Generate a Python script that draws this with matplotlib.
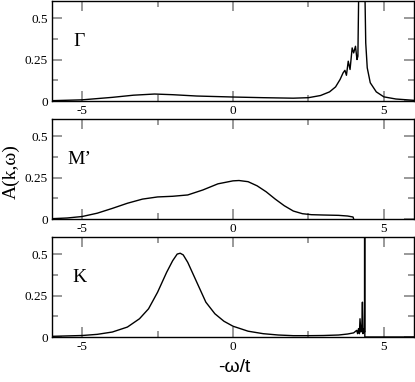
import matplotlib
matplotlib.use("Agg")
import matplotlib.pyplot as plt
from matplotlib.ticker import MultipleLocator, FuncFormatter

plt.rcParams['axes.unicode_minus'] = False

# Gamma point
gamma_w = [-6, -5, -4, -3.3, -2.6, -2, -1.2, 0, 1, 2, 2.5, 2.9, 3.2, 3.4, 3.55,
           3.65, 3.71, 3.76, 3.82, 3.88, 3.95, 4.0, 4.06, 4.11, 4.14, 4.17, 4.22,
           4.27, 4.32, 4.36, 4.4, 4.45, 4.55, 4.75, 5.0, 5.4, 6]
gamma_a = [0.002, 0.007, 0.022, 0.035, 0.042, 0.038, 0.03, 0.024, 0.02, 0.017,
           0.02, 0.033, 0.055, 0.085, 0.13, 0.17, 0.185, 0.155, 0.24, 0.19, 0.32,
           0.29, 0.33, 0.25, 0.27, 0.7, 1.8, 2.5, 1.5, 0.8, 0.35, 0.2, 0.11,
           0.055, 0.025, 0.012, 0.004]

# M' point
m_w = [-6, -5.5, -5, -4.5, -4, -3.5, -3, -2.5, -2, -1.5, -1, -0.5, 0, 0.2, 0.5,
       0.8, 1.1, 1.4, 1.7, 2.0, 2.3, 2.6, 3.0, 3.5, 3.8, 3.98, 4.0]
m_a = [0.002, 0.006, 0.015, 0.035, 0.064, 0.095, 0.12, 0.133, 0.137, 0.145,
       0.175, 0.212, 0.23, 0.232, 0.225, 0.2, 0.164, 0.12, 0.08, 0.048, 0.032,
       0.026, 0.024, 0.022, 0.018, 0.012, 0.0]

# K point
k_w = [-6, -5, -4.5, -4, -3.5, -3.1, -2.8, -2.5, -2.2, -2.0, -1.85, -1.75, -1.65,
       -1.5, -1.3, -1.1, -0.9, -0.6, -0.3, 0, 0.5, 1.0, 1.5, 2, 2.5, 3, 3.5, 3.8,
       4.0, 4.1, 4.13, 4.16, 4.19, 4.21, 4.24, 4.27, 4.29, 4.31, 4.33, 4.36, 4.365,
       4.37, 4.42, 4.5, 5, 6]
k_a = [0.004, 0.009, 0.016, 0.03, 0.06, 0.11, 0.17, 0.27, 0.39, 0.46, 0.5, 0.505,
       0.495, 0.45, 0.37, 0.29, 0.21, 0.14, 0.095, 0.065, 0.035, 0.02, 0.012,
       0.008, 0.008, 0.009, 0.012, 0.018, 0.025, 0.04, 0.02, 0.05, 0.02, 0.11,
       0.03, 0.06, 0.21, 0.02, 0.05, 0.03, 3.0, 0.0, 0.0, 0.0, 0.0, 0.0]

panels = [(gamma_w, gamma_a, 'Γ'), (m_w, m_a, 'M’'), (k_w, k_a, 'K')]
serif = 'Liberation Serif'


def fmt(v, pos):
    return '%g' % v


fig = plt.figure(figsize=(4.15, 3.82), dpi=100)
bottoms = [0.7356, 0.4267, 0.1178]
for (w, a, name), b in zip(panels, bottoms):
    ax = fig.add_axes([0.1253, b, 0.8723, 0.2605])
    ax.plot(w, a, color='black', lw=1.0)
    ax.set_xlim(-6, 6)
    ax.set_ylim(0, 0.6)
    ax.xaxis.set_major_locator(MultipleLocator(5))
    ax.xaxis.set_minor_locator(MultipleLocator(2.5))
    ax.yaxis.set_major_locator(MultipleLocator(0.25))
    ax.yaxis.set_minor_locator(MultipleLocator(0.125))
    ax.xaxis.set_major_formatter(FuncFormatter(fmt))
    ax.yaxis.set_major_formatter(FuncFormatter(fmt))
    ax.tick_params(which='both', direction='in', top=True, right=True,
                   color='#888888', width=1.2, labelsize=9.5, pad=3)
    ax.tick_params(which='major', length=7)
    ax.tick_params(which='minor', length=4)
    for lab in ax.get_xticklabels() + ax.get_yticklabels():
        lab.set_family(serif)
    for sp in ax.spines.values():
        sp.set_linewidth(1.0)
    ax.text(-5.1, 0.36, name, family=serif, fontsize=14,
            ha='center', va='center')

fig.text(0.028, 0.55, 'A(k,ω)', rotation=90, fontsize=14,
         family=serif, ha='center', va='center')
fig.text(0.565, 0.037, '-ω/t', fontsize=14, family='Liberation Sans',
         ha='center', va='center')

fig.savefig('out.png', dpi=100)
